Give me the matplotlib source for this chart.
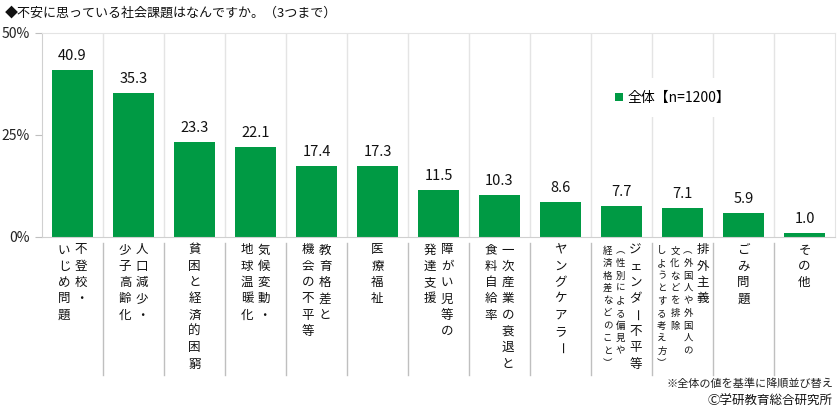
import matplotlib
matplotlib.use("Agg")
import matplotlib.pyplot as plt

plt.rcParams['font.family'] = ['Noto Sans CJK JP', 'DejaVu Sans']

# ── DATA ─────────────────────────────────────────────────────────────────────
TITLE = "◆不安に思っている社会課題はなんですか。（3つまで）"
SERIES = "全体【n=1200】"
NOTE = "※全体の値を基準に降順並び替え"
CREDIT = "Ⓒ学研教育総合研究所"

values = [40.9, 35.3, 23.3, 22.1, 17.4, 17.3, 11.5, 10.3, 8.6, 7.7, 7.1, 5.9, 1.0]

# vertical labels, columns listed right to left
labels = [
    ["不登校・", "いじめ問題"],
    ["人口減少・", "少子高齢化"],
    ["貧困と経済的困窮"],
    ["気候変動・", "地球温暖化"],
    ["教育格差と", "機会の不平等"],
    ["医療福祉"],
    ["障がい児等の", "発達支援"],
    ["一次産業の衰退と", "食料自給率"],
    ["ヤングケアラー"],
    ["ジェンダー不平等"],
    ["排外主義"],
    ["ごみ問題"],
    ["その他"],
]
# small explanatory columns (right to left)
notes = {
    9: ["︵性別による偏見や", "経済格差などのこと︶"],
    10: ["︵外国人や外国人の", "文化などを排除", "しようとする考え方︶"],
}
yticks = [0, 25, 50]
# ─────────────────────────────────────────────────────────────────────────────

GREEN = "#009A44"
W, H = 839, 412

fig = plt.figure(figsize=(W / 100, H / 100), dpi=100)
ax = fig.add_axes([42 / W, 175 / H, 793 / W, 204 / H])

x = range(len(values))
bars = ax.bar(x, values, width=0.67, color=GREEN, zorder=2, label=SERIES)

for xi, v in zip(x, values):
    ax.annotate(f"{v:.1f}", (xi, v), xytext=(0, 7), textcoords="offset pixels",
                ha="center", va="bottom", fontsize=10.5, color="#111111")

ax.set_xlim(-0.5, len(values) - 0.5)
ax.set_ylim(0, 50)
ax.set_xticks([])
ax.set_yticks(yticks)
ax.set_yticklabels([f"{t}%" for t in yticks], fontsize=10, color="#222222")
ax.tick_params(axis="y", length=5, color="#BFBFBF", pad=4)

for s in ["top", "right"]:
    ax.spines[s].set_color("#E4E4E4")
for s in ["left", "bottom"]:
    ax.spines[s].set_color("#D0D0D0")

# vertical gridlines between categories + separators under the axis
for k in range(1, len(values)):
    ax.axvline(k - 0.5, color="#E4E4E4", lw=1, zorder=0)
    ax.plot([k - 0.5, k - 0.5], [-0.03, -0.675], transform=ax.get_xaxis_transform(),
            color="#BFBFBF", lw=1, clip_on=False)


def put_column(xi, dx, text, fs, y0, step):
    for r, ch in enumerate(text):
        rot = -90 if ch == "ー" else 0
        ax.annotate(ch, (xi, 0), xytext=(dx, -(y0 + r * step)), textcoords="offset pixels",
                    ha="center", va="center", fontsize=fs, rotation=rot,
                    color="#111111", annotation_clip=False)


for i, cols in enumerate(labels):
    small = notes.get(i, [])
    pos = []
    cur = 0.0
    for j in range(len(cols)):
        pos.append(cur)
        cur -= 17
    if small:
        cur += 2
        for j in range(len(small)):
            pos.append(cur)
            cur -= 13
    mid = (pos[0] + pos[-1]) / 2
    pos = [p - mid for p in pos]
    for j, c in enumerate(cols):
        put_column(i, pos[j], c, 9, 13, 16.3)
    for j, c in enumerate(small):
        put_column(i, pos[len(cols) + j], c, 6.8, 14, 12.5)

leg = ax.legend(handles=[bars], loc="center", bbox_to_anchor=(0.795, 0.682),
                fontsize=10, frameon=True, facecolor="white", edgecolor="none",
                framealpha=1, handlelength=0.6, handleheight=0.6, handletextpad=0.3,
                borderpad=0.9, fancybox=False)

fig.text(5 / W, 1 - 13 / H, TITLE, fontsize=9.4, va="center", ha="left", color="#111111")
fig.text(833 / W, 1 - 384 / H, NOTE, fontsize=8, va="center", ha="right", color="#222222")
fig.text(833 / W, 1 - 401 / H, CREDIT, fontsize=9, va="center", ha="right", color="#111111")

fig.savefig("out.png", dpi=100)
